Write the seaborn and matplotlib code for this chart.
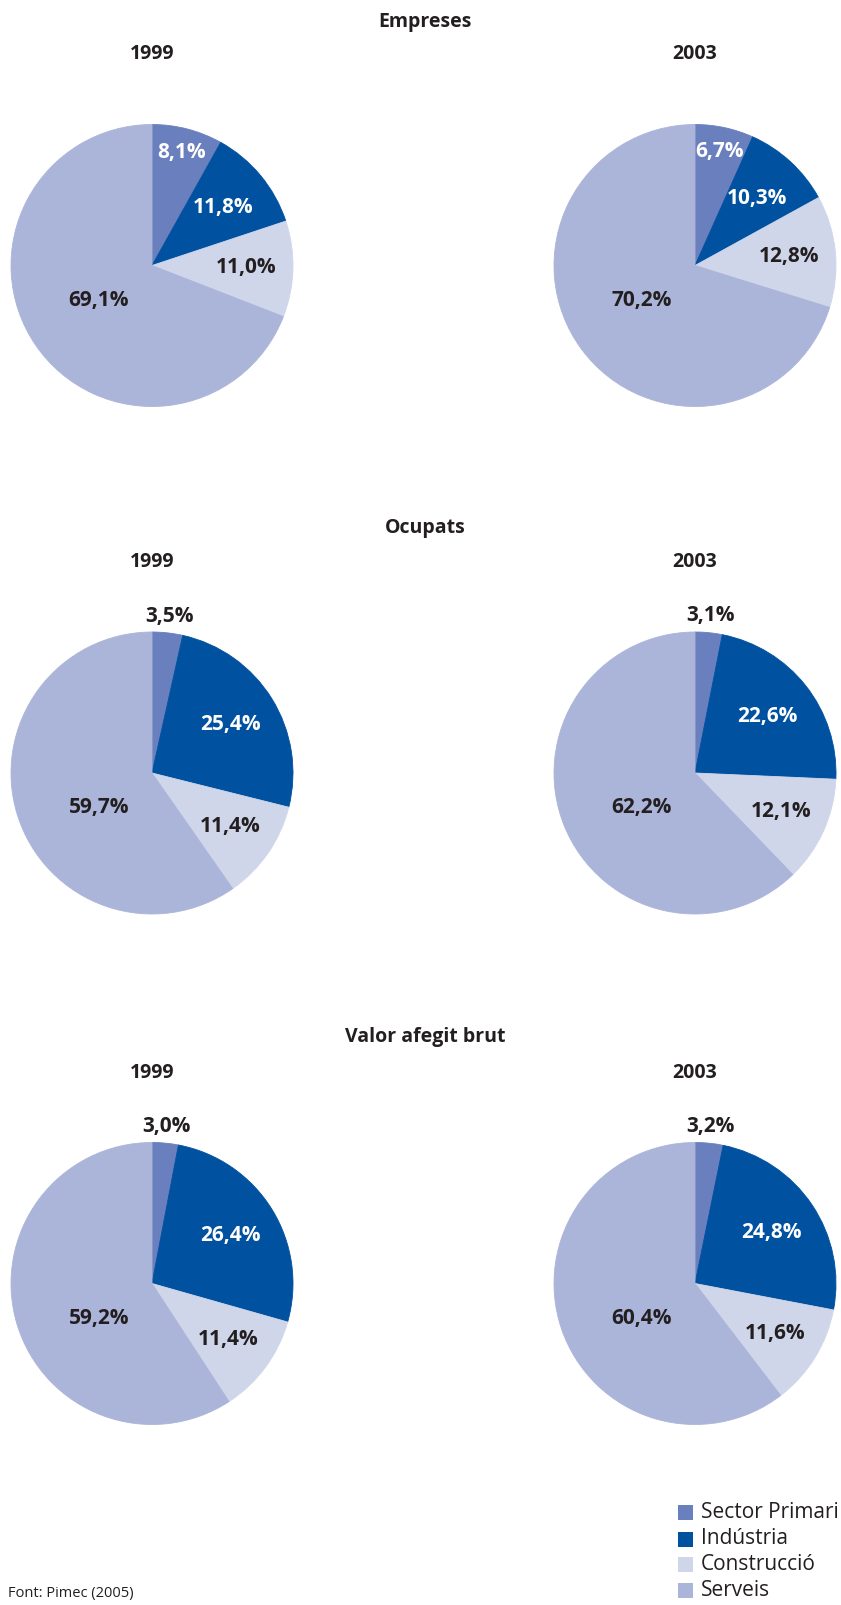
import numpy as np
import matplotlib
matplotlib.use("Agg")
import matplotlib.pyplot as plt
import seaborn as sns

sns.set_theme(style="white")
plt.rcParams['font.family'] = ['Open Sans', 'DejaVu Sans']

# ---------------- data ----------------
categories = ["Sector Primari", "Indústria", "Construcció", "Serveis"]
panels = ["Empreses", "Ocupats", "Valor afegit brut"]
years = ["1999", "2003"]

empreses_1999 = [8.1, 11.8, 11.0, 69.1]
empreses_2003 = [6.7, 10.3, 12.8, 70.2]
ocupats_1999 = [3.5, 25.4, 11.4, 59.7]
ocupats_2003 = [3.1, 22.6, 12.1, 62.2]
vab_1999 = [3.0, 26.4, 11.4, 59.2]
vab_2003 = [3.2, 24.8, 11.6, 60.4]

values = {
    "Empreses": [empreses_1999, empreses_2003],
    "Ocupats": [ocupats_1999, ocupats_2003],
    "Valor afegit brut": [vab_1999, vab_2003],
}
source = "Font: Pimec (2005)"

# ---------------- style ----------------
colors = sns.color_palette(["#6a80be", "#0051a0", "#d0d6ea", "#abb5d9"])
dark = "#231f20"
W, H = 841, 1605
R = 141
col_x = [152, 695]
row_cy = [265.5, 773, 1283.5]
title_y = [21.5, 528, 1037]
year_y = [54, 562, 1073]

fig = plt.figure(figsize=(W / 100, H / 100), dpi=100)
fig.patch.set_facecolor("white")


def fx(x):
    return x / W


def fy(y):
    return 1 - y / H


for ri, panel in enumerate(panels):
    fig.text(fx(425), fy(title_y[ri]), panel, ha="center", va="center",
             fontsize=14, fontweight="bold", color=dark)
    for ci, yr in enumerate(years):
        cx, cy = col_x[ci], row_cy[ri]
        fig.text(fx(cx), fy(year_y[ri]), yr, ha="center", va="center",
                 fontsize=14, fontweight="bold", color=dark)
        ax = fig.add_axes([fx(cx - R), (H - cy - R) / H, 2 * R / W, 2 * R / H])
        vals = values[panel][ci]
        wedges, _ = ax.pie(vals, colors=colors, startangle=90, counterclock=False,
                           radius=1, wedgeprops=dict(linewidth=0.6, edgecolor=None))
        for w, c in zip(wedges, colors):
            w.set_edgecolor(c)
        ax.set_xlim(-1, 1)
        ax.set_ylim(-1, 1)
        ax.axis("off")
        # labels
        for k, (w, v) in enumerate(zip(wedges, vals)):
            theta = np.deg2rad((w.theta1 + w.theta2) / 2)
            txtcol = dark
            if k == 0:
                if v > 5:
                    frac, txtcol = 0.83, "white"
                else:
                    frac = 1.12
            elif k == 1:
                frac, txtcol = 0.65, "white"
            elif k == 2:
                frac = 0.67
            else:
                frac = 0.45
                theta = np.deg2rad(-147)
            lbl = f"{v:.1f}%".replace(".", ",")
            ax.text(frac * np.cos(theta), frac * np.sin(theta), lbl,
                    ha="center", va="center", fontsize=15, fontweight="bold",
                    color=txtcol, clip_on=False)

# legend
leg_y = [1512, 1539, 1564, 1590]
sq = 15
for cat, c, ly in zip(categories, colors, leg_y):
    fig.patches.append(matplotlib.patches.Rectangle(
        (fx(678), fy(ly + sq / 2)), sq / W, sq / H, transform=fig.transFigure,
        facecolor=c, edgecolor="none"))
    fig.text(fx(701), fy(ly), cat, ha="left", va="center", fontsize=15, color=dark)

fig.text(fx(8), fy(1593), source, ha="left", va="center", fontsize=10.5, color=dark)

fig.savefig("out.png", dpi=100, facecolor="white")
